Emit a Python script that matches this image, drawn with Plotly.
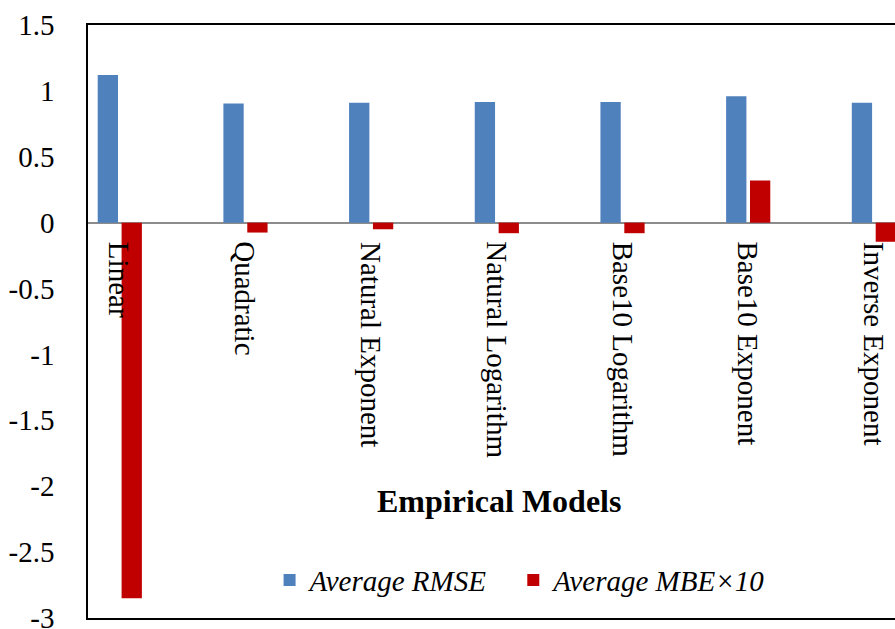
import plotly.graph_objects as go

# Empirical model names and their error statistics
models = ["Linear", "Quadratic", "Natural Exponent", "Natural Logarithm",
          "Base10 Logarithm", "Base10 Exponent", "Inverse Exponent"]
avg_rmse = [1.12, 0.905, 0.91, 0.915, 0.915, 0.96, 0.91]
avg_mbe_x10 = [-2.85, -0.075, -0.05, -0.08, -0.08, 0.32, -0.145]

y_ticks = [1.5, 1, 0.5, 0, -0.5, -1, -1.5, -2, -2.5, -3]

FONT = "Liberation Serif"

fig = go.Figure()
fig.add_trace(go.Bar(x=models, y=avg_rmse, name="<i>Average RMSE</i>",
                     marker=dict(color="#4F81BD", line=dict(width=0)),
                     legend="legend"))
fig.add_trace(go.Bar(x=models, y=avg_mbe_x10, name="<i>Average MBE×10</i>",
                     marker=dict(color="#C00000", line=dict(width=0)),
                     legend="legend2"))

# Category labels sit just under the zero line, rotated
for m in models:
    fig.add_annotation(x=m, y=0, xref="x", yref="y", text=m, textangle=90,
                       showarrow=False, xanchor="center", yanchor="top",
                       yshift=-17, font=dict(family=FONT, size=29, color="black"))

fig.add_annotation(x=0.509, y=0.198, xref="paper", yref="paper",
                   text="<b>Empirical Models</b>", showarrow=False,
                   xanchor="center", yanchor="middle",
                   font=dict(family=FONT, size=32, color="black"))

legend_style = dict(orientation="h", yanchor="middle", y=0.064, xanchor="left",
                    bgcolor="rgba(0,0,0,0)", font=dict(family=FONT, size=29))

fig.update_layout(
    width=895, height=629,
    margin=dict(l=88, r=0, t=25, b=11, autoexpand=False),
    paper_bgcolor="white", plot_bgcolor="white",
    barmode="group", bargap=0.62, bargroupgap=0.15,
    font=dict(family=FONT, size=29, color="black"),
    showlegend=True,
    legend=dict(x=0.225, **legend_style),
    legend2=dict(x=0.527, **legend_style),
    xaxis=dict(type="category", range=[-0.253, 6.168], showticklabels=False,
               showgrid=False, zeroline=False, showline=True, linecolor="black",
               linewidth=1.5, mirror=True, ticks="", automargin=False),
    yaxis=dict(range=[-3, 1.5], tickvals=y_ticks, ticktext=[f"{v:g}" for v in y_ticks],
               showgrid=False, zeroline=True, zerolinecolor="#8C8C8C", zerolinewidth=1.5,
               showline=True, linecolor="black", linewidth=1.5, ticks="",
               ticklabelstandoff=26, ticklabeloverflow="allow", automargin=False,
               tickfont=dict(family=FONT, size=29)),
)

fig.write_html("out.html")
